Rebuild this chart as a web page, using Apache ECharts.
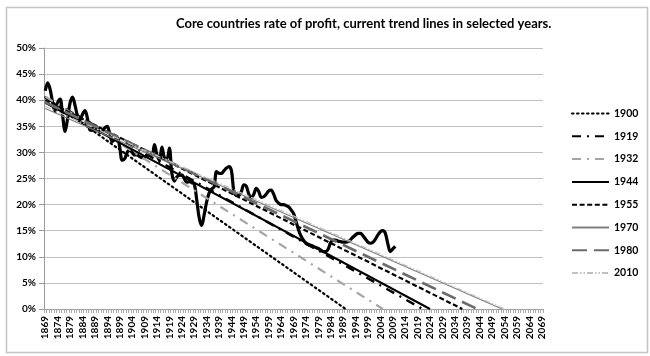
<!DOCTYPE html>
<html>
<head>
<meta charset="utf-8">
<script src="https://cdn.jsdelivr.net/npm/echarts@6/dist/echarts.min.js"></script>
<style>html,body{margin:0;padding:0;background:#fff}#c{width:650px;height:356px}</style>
</head>
<body>
<div id="c"></div>
<script>
// ---- data ----
const firstYear = 1869;
const lastYear = 2069;
const years = [];
for (let y = firstYear; y <= lastYear; y++) years.push(String(y));

// observed rate of profit (%), 1869..2010
const profitRate = [
  41.8, 43.3, 42.0, 39.5, 37.8, 39.5, 40.2, 37.0, 34.0, 36.5,
  39.5, 40.6, 39.0, 37.0, 36.2, 37.3, 38.0, 36.5, 34.3, 34.2,
  35.0, 34.5, 33.8, 34.0, 34.7, 35.0, 33.5, 32.1, 32.5, 32.8,
  31.0, 28.5, 28.8, 30.0, 30.5, 30.0, 29.5, 29.5, 29.2, 29.0,
  29.0, 29.5, 29.5, 29.5, 31.5, 29.5, 28.5, 31.0, 29.0, 28.8,
  30.8, 26.0, 24.5, 25.3, 25.6, 25.7, 25.0, 24.3, 24.4, 24.2,
  24.0, 21.0, 17.5, 16.0, 18.0, 20.5, 22.2, 23.0, 23.4, 26.3,
  26.0, 26.0, 26.5, 27.0, 27.3, 26.5, 22.5, 21.8, 21.8, 22.5,
  23.8, 23.5, 22.0, 21.3, 22.0, 23.1, 22.5, 21.4, 21.5, 22.0,
  22.6, 22.8, 22.0, 20.8, 20.3, 20.0, 20.0, 19.8, 19.6, 19.0,
  18.3, 16.8, 15.2, 14.0, 13.2, 12.6, 12.3, 12.2, 12.0, 11.8,
  11.6, 11.3, 11.0, 11.0, 11.5, 12.8, 13.2, 13.2, 13.0, 12.9,
  12.8, 12.8, 12.9, 13.3, 13.8, 14.2, 14.5, 14.5, 14.0, 13.4,
  12.8, 12.6, 12.8, 13.4, 14.2, 14.8, 15.0, 14.5, 12.5, 11.0,
  11.5, 12.0
];

// trend lines: name, value at 1869 (%), year where the line reaches 0%
const trendNames = ['1900', '1919', '1932', '1944', '1955', '1970', '1980', '2010'];
const trendStart = [40.6, 40.5, 40.7, 39.5, 40.0, 38.4, 39.6, 38.8];
const trendZeroYear = [1990, 2021, 2005, 2024, 2037, 2053, 2043, 2054];

// ---- styles ----
const trendStyles = [
  { color: '#000000', width: 2.2, type: [1.6, 3.4], cap: 'round' },
  { color: '#000000', width: 2.4, type: [9, 6, 2, 6] },
  { color: '#a6a6a6', width: 2.2, type: [9, 6, 2, 6] },
  { color: '#000000', width: 2.0, type: 'solid' },
  { color: '#000000', width: 2.2, type: [5, 2.6] },
  { color: '#808080', width: 1.2, type: 'solid' },
  { color: '#6b6b6b', width: 2.6, type: [15, 7] },
  { color: '#c0c0c0', width: 1.2, type: [6, 2, 1.5, 2, 1.5, 2] }
];

const FONT = 'Lato';

const series = [{
  name: 'Rate of profit',
  type: 'line',
  data: profitRate,
  smooth: 0.35,
  symbol: 'none',
  lineStyle: { color: '#000', width: 3.2 },
  z: 3
}];
trendNames.forEach((n, i) => {
  const st = trendStyles[i];
  series.push({
    name: n,
    type: 'line',
    data: [[String(firstYear), trendStart[i]], [String(trendZeroYear[i]), 0]],
    symbol: 'none',
    lineStyle: { color: st.color, width: st.width, type: st.type, cap: st.cap || 'butt' },
    itemStyle: { color: st.color },
    z: 4
  });
});

const chart = echarts.init(document.getElementById('c'), null, { renderer: 'canvas' });
chart.setOption({
  animation: false,
  backgroundColor: '#fff',
  title: {
    text: 'Core countries rate of profit, current trend lines in selected years.',
    left: 171, top: 12,
    textStyle: { fontFamily: FONT, fontWeight: 'bold', fontSize: 13, color: '#000' }
  },
  graphic: [{
    type: 'rect', left: 4, top: 5, silent: true,
    shape: { width: 641, height: 345 },
    style: { fill: 'none', stroke: '#c4c4c4', lineWidth: 1.5 }
  }],
  legend: {
    data: trendNames,
    orient: 'vertical',
    left: 566, top: 103,
    itemWidth: 37, itemHeight: 10, itemGap: 11.8,
    itemStyle: { opacity: 0 },
    textStyle: { fontFamily: FONT, fontWeight: 'bold', fontSize: 10.5, color: '#000' }
  },
  grid: { left: 44, right: 107, top: 48, bottom: 47, containLabel: false },
  xAxis: {
    type: 'category',
    data: years,
    boundaryGap: true,
    axisLine: { lineStyle: { color: '#999', width: 1 } },
    axisTick: { show: true, interval: 0, length: 4, lineStyle: { color: '#aaa' } },
    axisLabel: {
      interval: 4, rotate: 90, margin: 7,
      fontFamily: FONT, fontWeight: 'bold', fontSize: 10, color: '#000'
    },
    splitLine: { show: false }
  },
  yAxis: {
    type: 'value',
    min: 0, max: 50, interval: 5,
    axisLine: { show: true, lineStyle: { color: '#999', width: 1 } },
    axisTick: { show: true, length: 5, lineStyle: { color: '#999' } },
    axisLabel: {
      formatter: '{value}%', margin: 8,
      fontFamily: FONT, fontWeight: 'bold', fontSize: 10, color: '#000'
    },
    splitLine: { lineStyle: { color: '#c0c0c0', width: 1.2 } }
  },
  series: series
});
</script>
</body>
</html>
